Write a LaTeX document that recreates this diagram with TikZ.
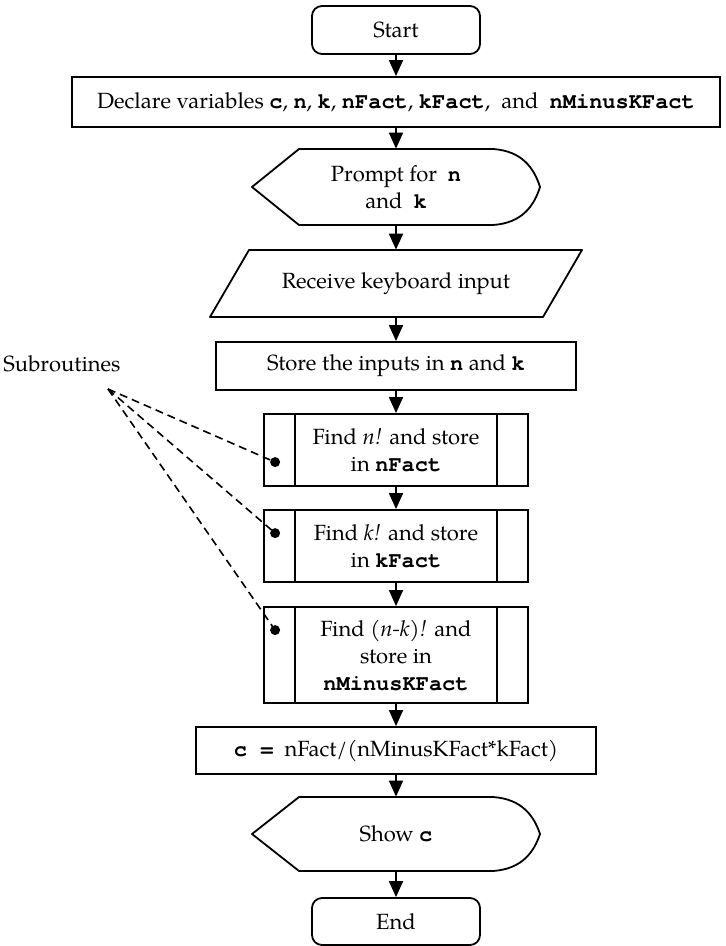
\documentclass[tikz,border=0pt]{standalone}
\usepackage{fontspec}
\setmainfont{texgyrepagella}[Extension=.otf,UprightFont=*-regular,BoldFont=*-bold,ItalicFont=*-italic,BoldItalicFont=*-bolditalic]
\newfontfamily\codefont{texgyrecursor}[Extension=.otf,UprightFont=*-regular,BoldFont=*-bold]
\newcommand{\cv}[1]{{\codefont\bfseries #1}}
\usetikzlibrary{arrows.meta,positioning,calc}

\tikzset{
  box/.style={draw, line width=0.9pt, align=center, font=\fontsize{11}{13.5}\selectfont},
  term/.style={box, rounded corners=5pt, minimum width=84pt, minimum height=24pt},
  sub/.style={box, minimum width=132pt},
  ghost/.style={align=center, inner sep=0pt, font=\fontsize{11}{13.5}\selectfont},
  outline/.style={line width=0.9pt, line join=round},
  arr/.style={line width=0.9pt, -{Triangle[width=7pt,length=8pt]}},
  pointer/.style={line width=0.8pt, dash pattern=on 4pt off 2.5pt},
}

\begin{document}
\begin{tikzpicture}[x=0.5pt,y=-0.5pt]
        \useasboundingbox (0,0) rectangle (725,946);

        % main column
        \node[term] (start) at (396,30) {Start};
        \node[box, minimum width=324pt, minimum height=25pt] (decl) at (396,102)
            {Declare variables \cv{c}, \cv{n}, \cv{k}, \cv{nFact}, \cv{kFact},~ and~ \cv{nMinusKFact}};

        \node[ghost, minimum width=144pt, minimum height=38pt] (prompt) at (396,187) {Prompt for~ \cv{n}\\and~ \cv{k}};
        \draw[outline] (252,187) -- (299,149) -- (493,149) .. controls (522,151) and (534,168) .. (540,187)
            .. controls (534,206) and (522,223) .. (493,225) -- (299,225) -- cycle;

        \node[ghost, minimum width=166pt, minimum height=33.5pt] (recv) at (396,283.5) {Receive keyboard input};
        \draw[outline] (249,250) -- (582,250) -- (543,317) -- (210,317) -- cycle;

        \node[box, minimum width=180pt, minimum height=24pt] (store) at (396,366) {Store the inputs in \cv{n} and \cv{k}};

        % subroutine boxes
        \node[sub, minimum height=36pt] (findn) at (396,450) {Find \textit{n!} and store\\in \cv{nFact}};
        \node[sub, minimum height=36pt] (findk) at (396,546) {Find \textit{k!} and store\\in \cv{kFact}};
        \node[sub, minimum height=48pt] (findnk) at (396,655) {Find \textit{(n-k)!} and\\store in\\\cv{nMinusKFact}};
        \foreach \b in {findn,findk,findnk} {
            \draw[outline] ([xshift=16pt]\b.north west) -- ([xshift=16pt]\b.south west);
            \draw[outline] ([xshift=-16pt]\b.north east) -- ([xshift=-16pt]\b.south east);
        }

        \node[box, minimum width=200pt, minimum height=23.5pt] (comb) at (396,750.5) {\cv{c =}~ nFact/(nMinusKFact*kFact)};

        \node[ghost, minimum width=144pt, minimum height=37pt] (show) at (396,834) {Show \cv{c}};
        \draw[outline] (252,834) -- (299,797) -- (493,797) .. controls (522,799) and (534,816) .. (540,834)
            .. controls (534,852) and (522,869) .. (493,871) -- (299,871) -- cycle;

        \node[term, minimum height=23.5pt] (finish) at (396,921.5) {End};

        \foreach \a/\b in {start/decl, decl/prompt, prompt/recv, recv/store, store/findn,
                findn/findk, findk/findnk, findnk/comb, comb/show, show/finish}
            \draw[arr] (\a) -- (\b);

        % pointers to the subroutines
        \node[ghost] (subr) at (62,364) {Subroutines};
        \coordinate (tip) at (108,389);
        \coordinate (dn) at ($(findn.north west)+(12,49)$);
        \coordinate (dk) at ($(findk.north west)+(12,24)$);
        \coordinate (dnk) at ($(findnk.north west)+(12,24)$);
        \foreach \d in {dn,dk,dnk} {
            \draw[pointer] (tip) -- (\d);
            \fill (\d) circle (2.5pt);
        }
\end{tikzpicture}
\end{document}
